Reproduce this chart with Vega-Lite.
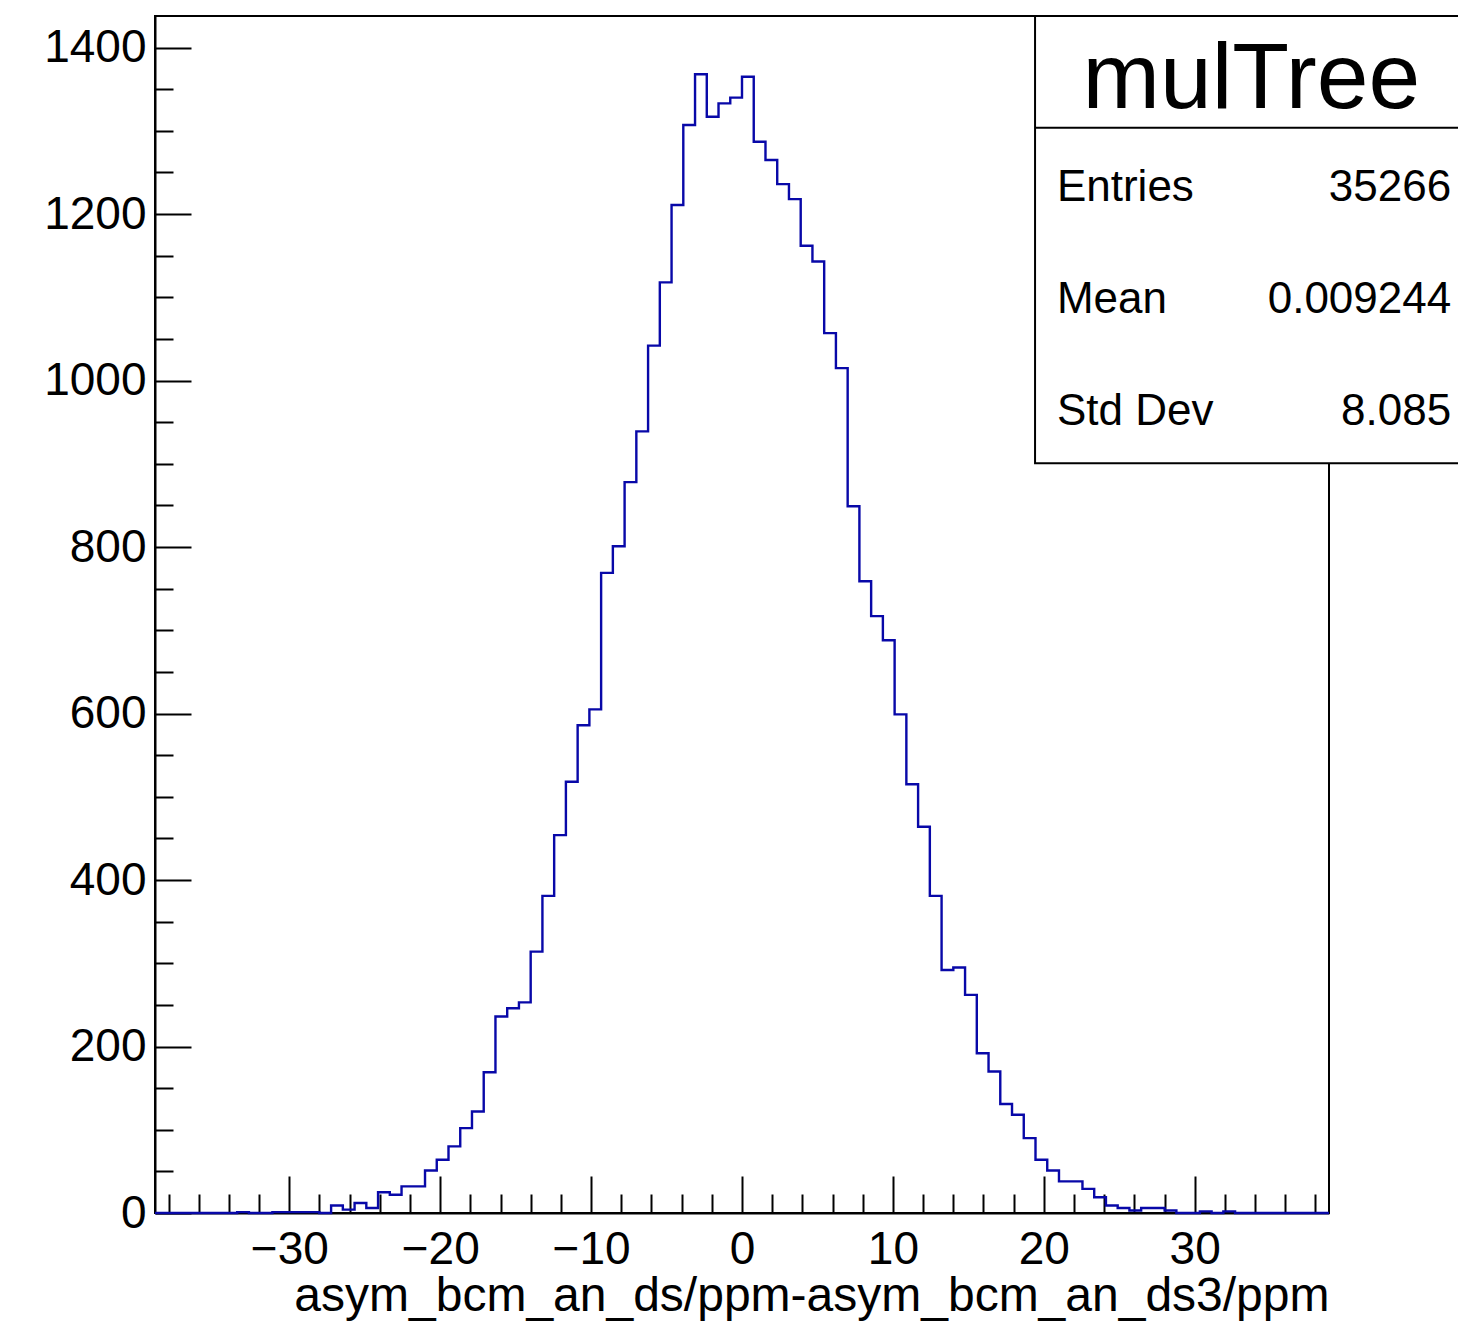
{
  "$schema": "https://vega.github.io/schema/vega-lite/v6.json",
  "autosize": {"type": "none"},
  "padding": {"left": 155, "top": 16, "right": 129, "bottom": 110},
  "width": 1174,
  "height": 1197,
  "background": "white",
  "config": {
    "view": {"stroke": "black", "strokeWidth": 2},
    "font": "Liberation Sans"
  },
  "resolve": {"axis": {"x": "independent", "y": "independent"}},
  "data": {
    "values": [
      {"lo": -38.9, "count": 0}, {"lo": -38.122, "count": 0}, {"lo": -37.344, "count": 0}, {"lo": -36.566, "count": 0},
      {"lo": -35.788, "count": 0}, {"lo": -35.01, "count": 0}, {"lo": -34.232, "count": 0}, {"lo": -33.454, "count": 1},
      {"lo": -32.676, "count": 0}, {"lo": -31.898, "count": 0}, {"lo": -31.12, "count": 1}, {"lo": -30.342, "count": 1},
      {"lo": -29.564, "count": 1}, {"lo": -28.786, "count": 1}, {"lo": -28.008, "count": 0}, {"lo": -27.23, "count": 9},
      {"lo": -26.452, "count": 4}, {"lo": -25.674, "count": 12}, {"lo": -24.896, "count": 6}, {"lo": -24.118, "count": 25},
      {"lo": -23.34, "count": 22}, {"lo": -22.562, "count": 32}, {"lo": -21.784, "count": 32}, {"lo": -21.006, "count": 51},
      {"lo": -20.228, "count": 64}, {"lo": -19.45, "count": 80}, {"lo": -18.672, "count": 102}, {"lo": -17.894, "count": 122},
      {"lo": -17.116, "count": 169}, {"lo": -16.338, "count": 236}, {"lo": -15.56, "count": 246}, {"lo": -14.782, "count": 253},
      {"lo": -14.004, "count": 314}, {"lo": -13.226, "count": 381}, {"lo": -12.448, "count": 454}, {"lo": -11.67, "count": 518},
      {"lo": -10.892, "count": 586}, {"lo": -10.114, "count": 605}, {"lo": -9.336, "count": 769}, {"lo": -8.558, "count": 801},
      {"lo": -7.78, "count": 878}, {"lo": -7.002, "count": 939}, {"lo": -6.224, "count": 1042}, {"lo": -5.446, "count": 1118},
      {"lo": -4.668, "count": 1211}, {"lo": -3.89, "count": 1307}, {"lo": -3.112, "count": 1368}, {"lo": -2.334, "count": 1317},
      {"lo": -1.556, "count": 1333}, {"lo": -0.778, "count": 1340}, {"lo": 0.0, "count": 1365}, {"lo": 0.778, "count": 1287},
      {"lo": 1.556, "count": 1265}, {"lo": 2.334, "count": 1236}, {"lo": 3.112, "count": 1218}, {"lo": 3.89, "count": 1162},
      {"lo": 4.668, "count": 1143}, {"lo": 5.446, "count": 1057}, {"lo": 6.224, "count": 1015}, {"lo": 7.002, "count": 849},
      {"lo": 7.78, "count": 759}, {"lo": 8.558, "count": 717}, {"lo": 9.336, "count": 688}, {"lo": 10.114, "count": 599},
      {"lo": 10.892, "count": 515}, {"lo": 11.67, "count": 464}, {"lo": 12.448, "count": 381}, {"lo": 13.226, "count": 292},
      {"lo": 14.004, "count": 295}, {"lo": 14.782, "count": 262}, {"lo": 15.56, "count": 192}, {"lo": 16.338, "count": 170},
      {"lo": 17.116, "count": 131}, {"lo": 17.894, "count": 118}, {"lo": 18.672, "count": 90}, {"lo": 19.45, "count": 64},
      {"lo": 20.228, "count": 51}, {"lo": 21.006, "count": 38}, {"lo": 21.784, "count": 38}, {"lo": 22.562, "count": 29},
      {"lo": 23.34, "count": 19}, {"lo": 24.118, "count": 9}, {"lo": 24.896, "count": 6}, {"lo": 25.674, "count": 3},
      {"lo": 26.452, "count": 6}, {"lo": 27.23, "count": 6}, {"lo": 28.008, "count": 3}, {"lo": 28.786, "count": 0},
      {"lo": 29.564, "count": 0}, {"lo": 30.342, "count": 2}, {"lo": 31.12, "count": 0}, {"lo": 31.898, "count": 2},
      {"lo": 32.676, "count": 0}, {"lo": 33.454, "count": 0}, {"lo": 34.232, "count": 0}, {"lo": 35.01, "count": 0},
      {"lo": 35.788, "count": 0}, {"lo": 36.566, "count": 0}, {"lo": 37.344, "count": 0}, {"lo": 38.122, "count": 0},
      {"lo": 38.9, "count": 0}
    ]
  },
  "layer": [
    {
      "mark": {"type": "line", "interpolate": "step-after", "color": "#0808a8", "strokeWidth": 2.4},
      "encoding": {
        "x": {
          "field": "lo", "type": "quantitative",
          "scale": {"domain": [-38.9, 38.9], "nice": false, "zero": false},
          "axis": {
            "orient": "bottom",
            "title": "asym_bcm_an_ds/ppm-asym_bcm_an_ds3/ppm",
            "titleFont": "Liberation Sans", "titleFontSize": 48, "titleFontWeight": "normal", "titleColor": "black",
            "titleAnchor": "end", "titleAlign": "right", "titleBaseline": "alphabetic", "titleY": 97,
            "values": [-30, -20, -10, 0, 10, 20, 30],
            "format": "d",
            "labelFont": "Liberation Sans", "labelFontSize": 46, "labelColor": "black",
            "labelPadding": 51, "labelFlush": false, "labelOverlap": false, "labelBound": false,
            "tickSize": -37, "tickColor": "black", "tickWidth": 2,
            "domainColor": "black", "domainWidth": 2,
            "grid": false
          }
        },
        "y": {
          "field": "count", "type": "quantitative",
          "scale": {"domain": [0, 1438], "nice": false},
          "axis": {
            "orient": "left",
            "title": null,
            "values": [0, 200, 400, 600, 800, 1000, 1200, 1400],
            "format": "d",
            "labelFont": "Liberation Sans", "labelFontSize": 46, "labelColor": "black",
            "labelPadding": 45, "labelFlush": false, "labelOverlap": false, "labelBound": false,
            "tickSize": -36, "tickColor": "black", "tickWidth": 2,
            "domainColor": "black", "domainWidth": 2,
            "grid": false
          }
        }
      }
    },
    {
      "data": {"values": [{}]},
      "mark": {"type": "rect", "fill": "white", "stroke": "black", "strokeWidth": 2},
      "encoding": {
        "x": {
          "datum": 19.42, "type": "quantitative",
          "axis": {
            "orient": "bottom", "title": null, "labels": false, "domain": false, "grid": false,
            "values": [-38,-36,-34,-32,-28,-26,-24,-22,-18,-16,-14,-12,-8,-6,-4,-2,2,4,6,8,12,14,16,18,22,24,26,28,32,34,36,38],
            "tickSize": -19, "tickColor": "black", "tickWidth": 2
          }
        },
        "x2": {"datum": 52},
        "y": {
          "datum": 900.8, "type": "quantitative",
          "axis": {
            "orient": "left", "title": null, "labels": false, "domain": false, "grid": false,
            "values": [50,100,150,250,300,350,450,500,550,650,700,750,850,900,950,1050,1100,1150,1250,1300,1350],
            "tickSize": -18, "tickColor": "black", "tickWidth": 2
          }
        },
        "y2": {"datum": 1438}
      }
    },
    {
      "data": {"values": [{}]},
      "mark": {"type": "rule", "color": "black", "strokeWidth": 2},
      "encoding": {
        "x": {"datum": 19.42, "type": "quantitative", "axis": null},
        "x2": {"datum": 52},
        "y": {"datum": 1303.9, "type": "quantitative", "axis": null}
      }
    },
    {
      "data": {"values": [{}]},
      "mark": {"type": "text", "font": "Liberation Sans", "fontSize": 93, "align": "center", "baseline": "alphabetic", "color": "black"},
      "encoding": {
        "x": {"datum": 33.75, "type": "quantitative", "axis": null},
        "y": {"datum": 1327.6, "type": "quantitative", "axis": null},
        "text": {"value": "mulTree"}
      }
    },
    {
      "data": {"values": [{}]},
      "mark": {"type": "text", "font": "Liberation Sans", "fontSize": 44, "align": "left", "baseline": "alphabetic", "color": "black"},
      "encoding": {
        "x": {"datum": 20.87, "type": "quantitative", "axis": null},
        "y": {"datum": 1215.9, "type": "quantitative", "axis": null},
        "text": {"value": "Entries"}
      }
    },
    {
      "data": {"values": [{}]},
      "mark": {"type": "text", "font": "Liberation Sans", "fontSize": 44, "align": "right", "baseline": "alphabetic", "color": "black"},
      "encoding": {
        "x": {"datum": 47.0, "type": "quantitative", "axis": null},
        "y": {"datum": 1215.9, "type": "quantitative", "axis": null},
        "text": {"value": "35266"}
      }
    },
    {
      "data": {"values": [{}]},
      "mark": {"type": "text", "font": "Liberation Sans", "fontSize": 44, "align": "left", "baseline": "alphabetic", "color": "black"},
      "encoding": {
        "x": {"datum": 20.87, "type": "quantitative", "axis": null},
        "y": {"datum": 1080.7, "type": "quantitative", "axis": null},
        "text": {"value": "Mean"}
      }
    },
    {
      "data": {"values": [{}]},
      "mark": {"type": "text", "font": "Liberation Sans", "fontSize": 44, "align": "right", "baseline": "alphabetic", "color": "black"},
      "encoding": {
        "x": {"datum": 47.0, "type": "quantitative", "axis": null},
        "y": {"datum": 1080.7, "type": "quantitative", "axis": null},
        "text": {"value": "0.009244"}
      }
    },
    {
      "data": {"values": [{}]},
      "mark": {"type": "text", "font": "Liberation Sans", "fontSize": 44, "align": "left", "baseline": "alphabetic", "color": "black"},
      "encoding": {
        "x": {"datum": 20.87, "type": "quantitative", "axis": null},
        "y": {"datum": 946.8, "type": "quantitative", "axis": null},
        "text": {"value": "Std Dev"}
      }
    },
    {
      "data": {"values": [{}]},
      "mark": {"type": "text", "font": "Liberation Sans", "fontSize": 44, "align": "right", "baseline": "alphabetic", "color": "black"},
      "encoding": {
        "x": {"datum": 47.0, "type": "quantitative", "axis": null},
        "y": {"datum": 946.8, "type": "quantitative", "axis": null},
        "text": {"value": "8.085"}
      }
    }
  ]
}
